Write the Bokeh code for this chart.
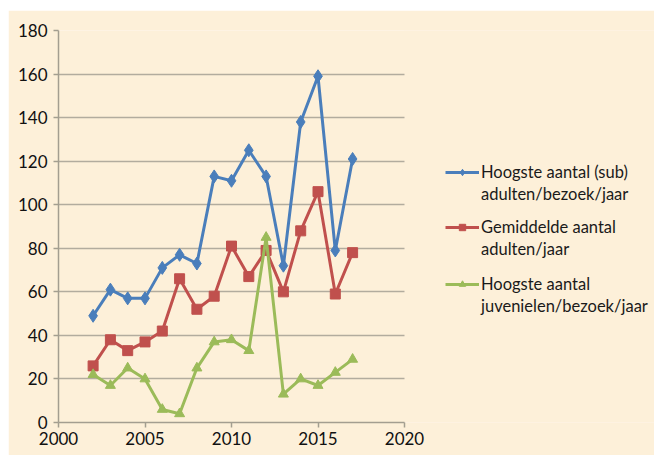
from bokeh.plotting import figure
from bokeh.models import Legend, LegendItem, FixedTicker, Range1d, Spacer, BoxAnnotation
from bokeh.layouts import column, row
from bokeh.embed import file_html
from bokeh.resources import INLINE

years = [2002, 2003, 2004, 2005, 2006, 2007, 2008, 2009, 2010, 2011, 2012, 2013, 2014, 2015, 2016, 2017]
hoogste_adult = [49, 61, 57, 57, 71, 77, 73, 113, 111, 125, 113, 72, 138, 159, 79, 121]
gemiddelde_adult = [26, 38, 33, 37, 42, 66, 52, 58, 81, 67, 79, 60, 88, 106, 59, 78]
hoogste_juv = [22, 17, 25, 20, 6, 4, 25, 37, 38, 33, 85, 13, 20, 17, 23, 29]
labels = [("Hoogste aantal (sub)", "adulten/bezoek/jaar"),
          ("Gemiddelde aantal", "adulten/jaar"),
          ("Hoogste aantal", "juvenielen/bezoek/jaar")]
x_ticks = [2000, 2005, 2010, 2015, 2020]
y_ticks = [0, 20, 40, 60, 80, 100, 120, 140, 160, 180]

BG = "#FDF0D9"
FONT = "Lato"

AXIS_W = 346          # pixel width of the 2000-2020 axis
FRAME_W = 596         # frame extends under the legend area
x_min, x_max = x_ticks[0], x_ticks[-1]
x_end = x_min + (x_max - x_min) * FRAME_W / AXIS_W

p = figure(frame_width=FRAME_W, frame_height=392, output_backend="svg", toolbar_location=None,
           x_range=Range1d(x_min, x_end), y_range=Range1d(0, 180),
           min_border_left=50, min_border_right=0, min_border_top=20, min_border_bottom=33)
p.background_fill_color = BG
p.border_fill_color = BG
p.outline_line_color = None

p.xgrid.grid_line_color = None
p.ygrid.grid_line_color = "#B2AC9E"
p.ygrid.grid_line_width = 1.5

# hide the grid beyond the end of the x axis (legend area)
p.add_layout(BoxAnnotation(left=x_max, fill_color=BG, fill_alpha=1, line_color=None, level="underlay"))

for ax in (p.xaxis[0], p.yaxis[0]):
    ax.axis_line_color = "#A39E90"
    ax.axis_line_width = 1.5
    ax.major_tick_line_color = "#A39E90"
    ax.major_tick_line_width = 1.5
    ax.major_tick_out = 5
    ax.major_tick_in = 0
    ax.minor_tick_line_color = None
    ax.major_label_text_font = FONT
    ax.major_label_text_font_size = "17px"
    ax.major_label_text_color = "#111111"

p.xaxis.bounds = (x_min, x_max)
p.xaxis.ticker = FixedTicker(ticks=x_ticks)
p.yaxis.ticker = FixedTicker(ticks=y_ticks)
p.xaxis.major_label_standoff = 4
p.yaxis.major_label_standoff = 6

series = [
    (hoogste_adult, "#4A7EBB", "diamond", 13),
    (gemiddelde_adult, "#C0504D", "square", 10),
    (hoogste_juv, "#9BBB59", "triangle", 10),
]
dummy = p.line(x=[], y=[], line_alpha=0)
legend_bottoms = [218, 163, 106]
for (vals, col, mk, sz), (lab1, lab2), yb in zip(series, labels, legend_bottoms):
    l = p.line(years, vals, line_color=col, line_width=3)
    s = p.scatter(years, vals, marker=mk, size=sz, fill_color=col, line_color=col)
    lg = Legend(items=[LegendItem(label=lab1, renderers=[l, s]),
                       LegendItem(label=lab2, renderers=[dummy])],
                location=(387, yb))
    lg.background_fill_alpha = 0
    lg.border_line_color = None
    lg.padding = 0
    lg.margin = 0
    lg.spacing = 2
    lg.glyph_width = 34
    lg.glyph_height = 16
    lg.label_height = 16
    lg.label_standoff = 2
    lg.label_text_font = FONT
    lg.label_text_font_size = "16.5px"
    lg.label_text_color = "#1A1A1A"
    p.add_layout(lg, "center")

layout = column(Spacer(width=654, height=10),
                row(Spacer(width=8, height=445), p, spacing=0), spacing=0)

open("out.html", "w").write(file_html(layout, INLINE))
